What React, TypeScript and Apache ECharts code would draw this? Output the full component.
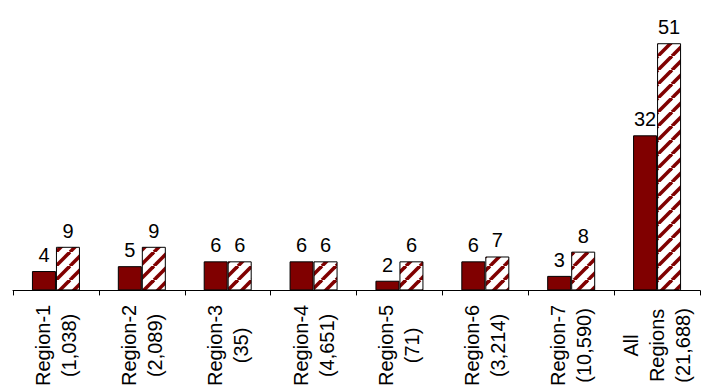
import React, { useEffect, useRef } from "react";
import * as echarts from "echarts";

const regionNames = ["Region-1", "Region-2", "Region-3", "Region-4", "Region-5", "Region-6", "Region-7", "All\nRegions"];
const regionCounts = ["(1,038)", "(2,089)", "(35)", "(4,651)", "(71)", "(3,214)", "(10,590)", "(21,688)"];
const solidValues = [4, 5, 6, 6, 2, 6, 3, 32];
const hatchedValues = [9, 9, 6, 6, 6, 7, 8, 51];

const MAROON = "#800000";
const FONT = "'Liberation Sans', Arial, sans-serif";

function makeHatch(): HTMLCanvasElement {
  const c = document.createElement("canvas");
  const s = 14;
  c.width = s;
  c.height = s;
  const ctx = c.getContext("2d")!;
  ctx.fillStyle = "#ffffff";
  ctx.fillRect(0, 0, s, s);
  ctx.strokeStyle = MAROON;
  ctx.lineWidth = 3.6;
  for (const o of [-s, 0, s]) {
    ctx.beginPath();
    ctx.moveTo(o, s);
    ctx.lineTo(o + s, 0);
    ctx.stroke();
  }
  return c;
}

export default function App() {
  const ref = useRef<HTMLDivElement>(null);
  useEffect(() => {
    if (!ref.current) return;
    const chart = echarts.init(ref.current, null, { renderer: "svg" });
    const categories = regionNames.map((n, i) => `${n}\n${regionCounts[i]}`);
    const labelCfg = {
      show: true,
      position: "top" as const,
      distance: 6,
      fontSize: 20,
      fontFamily: FONT,
      color: "#000",
    };
    chart.setOption({
      animation: false,
      grid: { left: 13, right: 7, top: 19, bottom: 98 },
      xAxis: {
        type: "category",
        data: categories,
        axisLine: { lineStyle: { color: "#000", width: 1 } },
        axisTick: { show: true, length: 5, lineStyle: { color: "#000" } },
        axisLabel: {
          rotate: 90,
          align: "center",
          verticalAlign: "middle",
          margin: 55,
          fontSize: 20,
          lineHeight: 26,
          fontFamily: FONT,
          color: "#000",
          interval: 0,
        },
      },
      yAxis: { type: "value", min: 0, max: 56, show: false, splitLine: { show: false } },
      series: [
        {
          type: "bar",
          data: solidValues,
          barWidth: 24,
          barGap: "0%",
          itemStyle: { color: MAROON, borderColor: "#000", borderWidth: 1 },
          label: labelCfg,
        },
        {
          type: "bar",
          data: hatchedValues,
          barWidth: 24,
          barGap: "0%",
          itemStyle: {
            color: { image: makeHatch(), repeat: "repeat", imageWidth: 14, imageHeight: 14 },
            borderColor: "#000",
            borderWidth: 1,
          },
          label: labelCfg,
        },
      ],
    });
    return () => chart.dispose();
  }, []);
  return (
    <div
      ref={ref}
      style={{ position: "fixed", left: 0, top: 0, width: 707, height: 389, background: "#fff" }}
    />
  );
}
